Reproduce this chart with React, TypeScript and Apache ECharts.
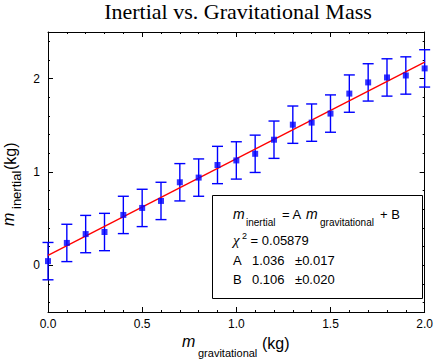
import React, { useEffect, useRef } from "react";
import * as echarts from "echarts";

const xGrav = [0, 0.1, 0.2, 0.3, 0.4, 0.5, 0.6, 0.7, 0.8, 0.9, 1.0, 1.1, 1.2, 1.3, 1.4, 1.5, 1.6, 1.7, 1.8, 1.9, 2.0];
const yInert = [0.045, 0.24, 0.335, 0.357, 0.54, 0.615, 0.69, 0.89, 0.94, 1.075, 1.124, 1.195, 1.346, 1.507, 1.529, 1.626, 1.84, 1.96, 2.013, 2.034, 2.11];
const yErr = [0.2, 0.2, 0.2, 0.2, 0.2, 0.2, 0.2, 0.2, 0.2, 0.2, 0.2, 0.2, 0.2, 0.2, 0.2, 0.2, 0.2, 0.2, 0.2, 0.2, 0.2];
const fitA = 1.036;
const fitB = 0.106;
const fitRange = [0, 2];
const yMajorTicks = [0, 1, 2];
const yMinorTicks = [-0.4, -0.2, 0.2, 0.4, 0.6, 0.8, 1.2, 1.4, 1.6, 1.8, 2.2, 2.4];
const chiText = " = 0.05879";
const paramA = ["A", "1.036", "±0.017"];
const paramB = ["B", "0.106", "±0.020"];

const SANS = "'Liberation Sans', Arial, sans-serif";
const SERIF = "'Liberation Serif', 'Times New Roman', serif";

export default function App() {
  const ref = useRef<HTMLDivElement>(null);
  useEffect(() => {
    if (!ref.current) return;
    const chart = echarts.init(ref.current, null, { renderer: "svg" });
    const pts = xGrav.map((x, i) => [x, yInert[i], yErr[i]]);
    const fitLine = fitRange.map((x) => [x, fitA * x + fitB]);

    const yBase = {
      type: "value",
      min: -0.5,
      max: 2.5,
      splitLine: { show: false },
    };
    const yMajor = (pos: string, labels: boolean) => ({
      ...yBase,
      position: pos,
      axisLine: { show: true, onZero: false, lineStyle: { color: "#000", width: 1 } },
      axisTick: { show: true, inside: true, length: 5, customValues: yMajorTicks, lineStyle: { color: "#000" } },
      axisLabel: {
        show: labels,
        customValues: yMajorTicks,
        margin: 8,
        color: "#000",
        fontFamily: SANS,
        fontSize: 12,
        formatter: (v: number) => String(v),
      },
    });
    const yMinor = (pos: string) => ({
      ...yBase,
      position: pos,
      axisLine: { show: false, onZero: false },
      axisTick: { show: true, inside: true, length: 2, customValues: yMinorTicks, lineStyle: { color: "#000" } },
      axisLabel: { show: false },
    });
    const xAx = (pos: string, labels: boolean) => ({
      type: "value",
      position: pos,
      min: 0,
      max: 2,
      interval: 0.5,
      splitLine: { show: false },
      axisLine: { show: true, onZero: false, lineStyle: { color: "#000", width: 1 } },
      axisTick: { show: true, inside: true, length: 5, lineStyle: { color: "#000" } },
      minorTick: { show: true, splitNumber: 5, length: 2, lineStyle: { color: "#000" } },
      axisLabel: {
        show: labels,
        margin: 6,
        color: "#000",
        fontFamily: SANS,
        fontSize: 12,
        formatter: (v: number) => v.toFixed(1),
      },
    });

    const txt = (text: string, x: number, y: number, size: number, extra: any = {}) => ({
      type: "text",
      x,
      y,
      z: 100,
      style: {
        text,
        fontSize: size,
        fontFamily: SANS,
        fill: "#000",
        align: "left",
        verticalAlign: "middle",
        ...extra,
      },
    });

    chart.setOption({
      animation: false,
      backgroundColor: "#fff",
      grid: { left: 48, right: 8, top: 32, bottom: 51, containLabel: false },
      xAxis: [xAx("bottom", true), xAx("top", false)],
      yAxis: [yMajor("left", true), yMinor("left"), yMajor("right", false), yMinor("right")],
      series: [
        {
          type: "line",
          data: fitLine,
          xAxisIndex: 0,
          yAxisIndex: 0,
          showSymbol: false,
          symbol: "none",
          lineStyle: { color: "#ff0000", width: 1.3 },
          z: 3,
        },
        {
          type: "custom",
          xAxisIndex: 0,
          yAxisIndex: 0,
          clip: false,
          data: pts,
          z: 2,
          renderItem: (params: any, api: any) => {
            const x = api.value(0);
            const y = api.value(1);
            const e = api.value(2);
            const top = api.coord([x, y + e]);
            const bot = api.coord([x, y - e]);
            const hw = 5.5;
            const st = { stroke: "#0000ff", lineWidth: 1.4 };
            return {
              type: "group",
              children: [
                { type: "line", shape: { x1: top[0], y1: top[1], x2: bot[0], y2: bot[1] }, style: st },
                { type: "line", shape: { x1: top[0] - hw, y1: top[1], x2: top[0] + hw, y2: top[1] }, style: st },
                { type: "line", shape: { x1: bot[0] - hw, y1: bot[1], x2: bot[0] + hw, y2: bot[1] }, style: st },
              ],
            };
          },
        },
        {
          type: "scatter",
          xAxisIndex: 0,
          yAxisIndex: 0,
          clip: false,
          data: pts.map((p) => [p[0], p[1]]),
          symbol: "rect",
          symbolSize: 6,
          itemStyle: { color: "#0000ff" },
          z: 4,
        },
      ],
      graphic: [
        txt("Inertial vs. Gravitational Mass", 238, 11.5, 22, { fontFamily: SERIF, align: "center" }),
        // x axis name
        txt("m", 182, 341, 16, { fontStyle: "italic" }),
        txt("gravitational", 198, 353, 11),
        txt("(kg)", 262, 343, 16),
        // y axis name (rotated)
        { ...txt("m", 8, 226, 16, { fontStyle: "italic" }), rotation: Math.PI / 2 },
        { ...txt("inertial", 16, 209, 13), rotation: Math.PI / 2 },
        { ...txt("(kg)", 10.5, 170, 16), rotation: Math.PI / 2 },
        // fit box
        {
          type: "rect",
          z: 90,
          shape: { x: 212.5, y: 195.5, width: 210, height: 103 },
          style: { fill: "#fff", stroke: "#000", lineWidth: 1 },
        },
        txt("m", 233, 214, 14, { fontStyle: "italic" }),
        txt("inertial", 246, 222, 10),
        txt("= A", 282, 214, 13),
        txt("m", 306, 214, 14, { fontStyle: "italic" }),
        txt("gravitational", 320, 222, 10),
        txt("+ B", 380, 214, 13),
        txt("χ", 233, 240, 15, { fontFamily: SERIF, fontStyle: "italic" }),
        txt("2", 242, 236, 9),
        txt(chiText, 247, 240, 13),
        txt(paramA[0], 233, 260, 13),
        txt(paramA[1], 252, 260, 13),
        txt(paramA[2], 295, 260, 13),
        txt(paramB[0], 233, 279.5, 13),
        txt(paramB[1], 252, 279.5, 13),
        txt(paramB[2], 295, 279.5, 13),
      ],
    });
    return () => chart.dispose();
  }, []);
  return <div ref={ref} style={{ position: "fixed", left: 0, top: 0, width: 436, height: 363 }} />;
}
